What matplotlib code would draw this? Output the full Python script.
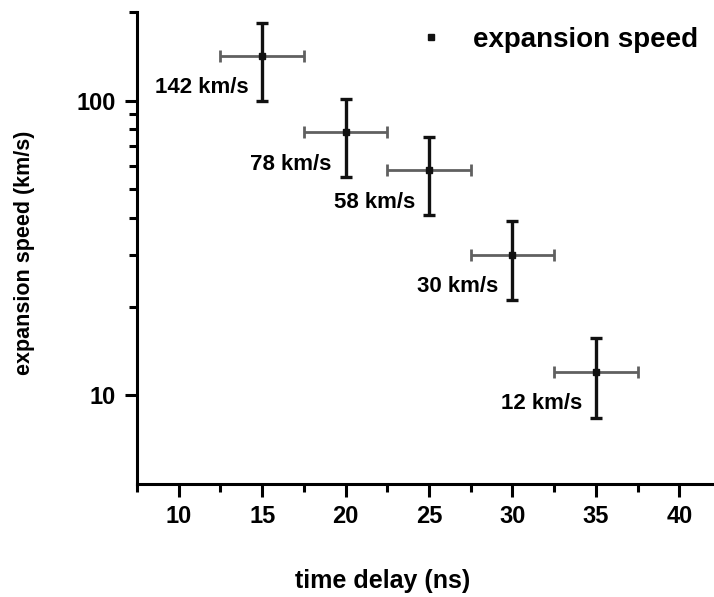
import matplotlib
matplotlib.use('Agg')
import matplotlib.pyplot as plt
from matplotlib.ticker import FixedLocator, NullFormatter

plt.rcParams['font.family'] = ['Liberation Sans', 'DejaVu Sans']
plt.rcParams['font.weight'] = 'bold'

# dane
delay = [15, 20, 25, 30, 35]          # ns
speed = [142, 78, 58, 30, 12]         # km/s
speed_err = [42, 23, 17, 9, 3.6]
delay_err = [2.5, 2.5, 2.5, 2.5, 2.5]
labels = ['142 km/s', '78 km/s', '58 km/s', '30 km/s', '12 km/s']

fig = plt.figure(figsize=(7.14, 5.97), dpi=100)
ax = fig.add_axes([137/714, 113/597, (721-137)/714, (484-12)/597])

# poziome słupki błędów (szare)
ax.errorbar(delay, speed, xerr=delay_err, fmt='none', ecolor='#606060',
            elinewidth=2, capsize=4, capthick=2)
# pionowe słupki błędów (czarne)
ax.errorbar(delay, speed, yerr=speed_err, fmt='none', ecolor='#111111',
            elinewidth=2.4, capsize=4.5, capthick=2.4)
ax.plot(delay, speed, 's', color='#111111', markersize=5, label='expansion speed')

for x, y, t in zip(delay, speed, labels):
    ax.annotate(t, (x, y), xytext=(-10, -23), textcoords='offset points',
                ha='right', va='center', fontsize=16, fontweight='bold')

ax.set_yscale('log')
ax.set_xlim(7.5, 42.5)
ax.set_ylim(5, 200)
ax.set_xticks([10, 15, 20, 25, 30, 35, 40])
ax.xaxis.set_minor_locator(FixedLocator([7.5, 12.5, 17.5, 22.5, 27.5, 32.5, 37.5, 42.5]))
ax.set_yticks([10, 100])
ax.set_yticklabels(['10', '100'])
ax.yaxis.set_minor_locator(FixedLocator([20, 30, 40, 50, 60, 70, 80, 90, 200]))
ax.yaxis.set_minor_formatter(NullFormatter())

for s in ['top', 'right']:
    ax.spines[s].set_visible(False)
for s in ['left', 'bottom']:
    ax.spines[s].set_linewidth(2.2)

ax.tick_params(which='major', direction='out', length=9, width=2.2, labelsize=17, pad=6)
ax.tick_params(which='minor', direction='out', length=5.5, width=2.2)
for lab in ax.get_xticklabels() + ax.get_yticklabels():
    lab.set_fontweight('bold')

ax.set_xlabel('time delay (ns)', fontsize=18, fontweight='bold')
ax.xaxis.set_label_coords(0.42, -0.18)
ax.set_ylabel('expansion speed (km/s)', fontsize=15.5, fontweight='bold')
ax.yaxis.set_label_coords(-0.175, 0.49)

ax.legend(loc='center right', bbox_to_anchor=(698/714, 1 - 40/597),
          bbox_transform=fig.transFigure, frameon=False,
          fontsize=20, handlelength=1.0, handletextpad=1.0, borderpad=0.0,
          borderaxespad=0.0)

fig.savefig('out.png', dpi=100)
